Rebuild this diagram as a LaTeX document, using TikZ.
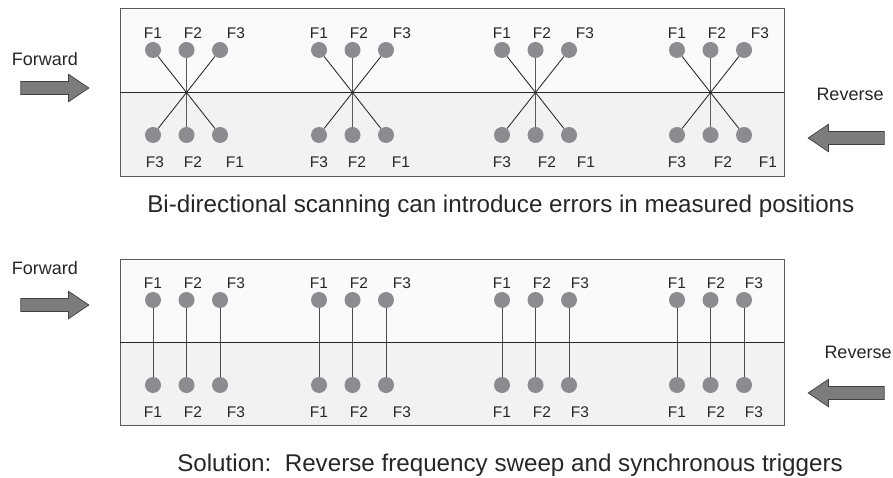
\documentclass[tikz,border=0pt]{standalone}
\usepackage{fontspec}
\setmainfont{Liberation Sans}
\usetikzlibrary{shapes.arrows}

\definecolor{dotgray}{HTML}{8C8C90}
\definecolor{paneltop}{HTML}{FAFAFA}
\definecolor{panelbot}{HTML}{F2F2F2}
\definecolor{panelline}{HTML}{5A5A5A}
\definecolor{arrowgray}{HTML}{7C7C7C}

\tikzset{
  dot/.style={circle,fill=dotgray,minimum size=0.4cm,inner sep=0pt},
  flabel/.style={font=\fontsize{11}{13}\selectfont,inner sep=0pt,text=black!85},
  dirlabel/.style={font=\fontsize{12.8}{15}\selectfont,inner sep=0pt,anchor=base,text=black!85},
  caption/.style={font=\fontsize{17.2}{20}\selectfont,inner sep=0pt,anchor=base west,text=black!85},
  link/.style={draw=black!85,line width=0.6pt},
  bigarrow/.style={single arrow,draw=black!75,fill=arrowgray,line width=0.5pt,
    minimum height=1.7cm,inner xsep=0pt,inner ysep=0.155cm,
    single arrow head extend=0.18cm,single arrow tip angle=68},
}

\begin{document}
\begin{tikzpicture}[x=0.025cm,y=-0.025cm]
  \useasboundingbox (0,0) rectangle (893,478);
  %% Upper panel
  \fill[paneltop] (120,8) rectangle (784,92);
  \fill[panelbot] (120,92) rectangle (784,176);
  \draw[panelline,line width=0.6pt] (120,8) rectangle (784,176);
  \draw[black!85,line width=0.6pt] (120,92) -- (784,92);
  %% Lower panel
  \fill[paneltop] (120,259) rectangle (784,342);
  \fill[panelbot] (120,342) rectangle (784,425);
  \draw[panelline,line width=0.6pt] (120,259) rectangle (784,425);
  \draw[black!85,line width=0.6pt] (120,342) -- (784,342);

  %% Direction arrows
  \node[dirlabel] (fwd1) at (45,66) {Forward};
  \node[bigarrow] (fa1) at (50,88) {};
  \node[dirlabel] (rev1) at (850,101) {Reverse};
  \node[bigarrow,minimum height=1.9cm,shape border rotate=180] (ra1) at (851,138) {};
  \node[dirlabel] (fwd2) at (45,274) {Forward};
  \node[bigarrow] (fa2) at (50,305) {};
  \node[dirlabel] (rev2) at (858,358) {Reverse};
  \node[bigarrow,minimum height=1.9cm,shape border rotate=180] (ra2) at (851,393) {};

  %% Crossed positions (upper panel)
  \foreach \g/\x/\ba/\bb/\bc in {1/153/2/40/82,2/319/0/38/82,3/502/0/45/84,4/677/0/46/91} {
    \foreach \i/\dx/\lx in {1/0/0,2/33.5/40,3/67/83} {
      \node[dot] (a\g\i) at (\x+\dx,50) {};
      \node[flabel] (la\g\i) at (\x+\lx,33) {F\i};
    }
    \node[dot] (b\g3) at (\x,135) {};
    \node[dot] (b\g2) at (\x+33.5,135) {};
    \node[dot] (b\g1) at (\x+67,135) {};
    \node[flabel] (lb\g3) at (\x+\ba,162) {F3};
    \node[flabel] (lb\g2) at (\x+\bb,162) {F2};
    \node[flabel] (lb\g1) at (\x+\bc,162) {F1};
    \draw[link] (a\g1) -- (b\g1);
    \draw[link,draw=black!65] (a\g2) -- (b\g2);
    \draw[link] (a\g3) -- (b\g3);
  }

  %% Aligned positions (lower panel)
  \foreach \g/\x/\lb/\lc in {1/153/40/83,2/319/40/83,3/502/40/78,4/677/39/77} {
    \foreach \i/\dx/\lx in {1/0/0,2/33.5/\lb,3/67/\lc} {
      \node[dot] (c\g\i) at (\x+\dx,300) {};
      \node[dot] (d\g\i) at (\x+\dx,385) {};
      \node[flabel] (lc\g\i) at (\x+\lx,283) {F\i};
      \node[flabel] (ld\g\i) at (\x+\lx,412) {F\i};
      \draw[link,draw=black!70] (c\g\i) -- (d\g\i);
    }
  }

  %% Captions
  \node[caption] (cap1) at (147,213) {Bi-directional scanning can introduce errors in measured positions};
  \node[caption] (cap2) at (177,471) {Solution:\ \ Reverse frequency sweep and synchronous triggers};
\end{tikzpicture}
\end{document}
